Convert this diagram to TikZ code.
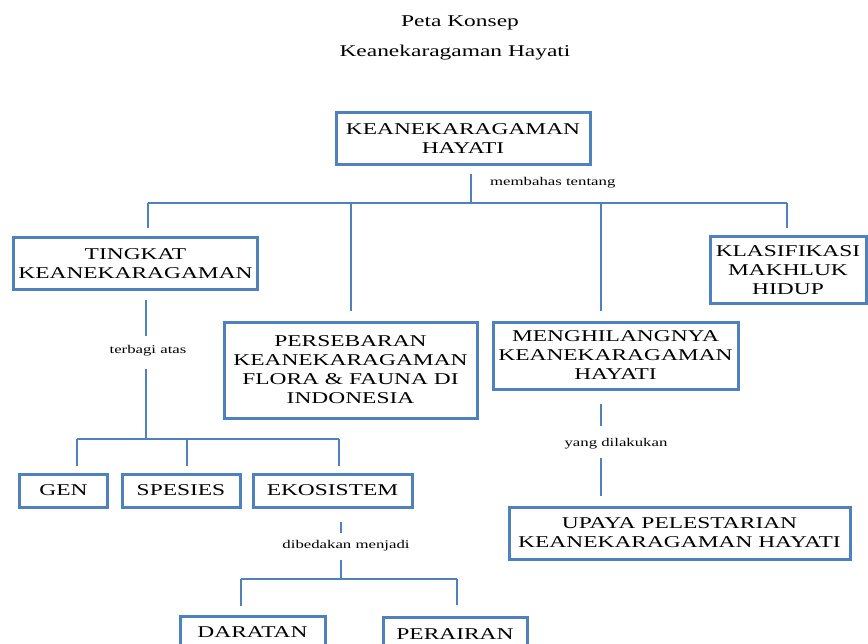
\documentclass[tikz,border=0pt]{standalone}
\usepackage{fontspec}
\setmainfont{Liberation Serif}[FakeStretch=1.42]
\usetikzlibrary{calc}
\definecolor{lineblue}{HTML}{4F81BD}
\tikzset{
  box/.style={draw=lineblue, line width=3bp, fill=white, align=center, inner sep=0pt,
    font=\fontsize{16.5bp}{19bp}\selectfont},
  conn/.style={draw=lineblue, line width=1.8bp},
  lbl/.style={inner sep=0pt, font=\fontsize{11.8bp}{13bp}\selectfont},
  ttl/.style={inner sep=0pt, font=\fontsize{16.5bp}{19bp}\selectfont}
}
\begin{document}
\begin{tikzpicture}[x=1bp,y=-1bp]
\useasboundingbox (0,0) rectangle (868,644);
% titles
\node[ttl] (t1) at (460,23) {Peta Konsep};
\node[ttl] (t2) at (455,53) {Keanekaragaman Hayati};
% boxes
\node[box, minimum width=254bp, minimum height=52bp] (root) at (463,139) {KEANEKARAGAMAN\\HAYATI};
\node[box, minimum width=243bp, minimum height=51bp] (tingkat) at (135.5,263.5) {TINGKAT\\KEANEKARAGAMAN};
\node[box, minimum width=253bp, minimum height=96bp] (sebar) at (350.5,370) {PERSEBARAN\\KEANEKARAGAMAN\\FLORA \& FAUNA DI\\INDONESIA};
\node[box, minimum width=245bp, minimum height=67bp] (hilang) at (615.5,355.5) {MENGHILANGNYA\\KEANEKARAGAMAN\\HAYATI};
\node[box, minimum width=156bp, minimum height=66bp] (klas) at (788,270) {KLASIFIKASI\\MAKHLUK\\HIDUP};
\node[box, minimum width=87bp, minimum height=33bp] (gen) at (63.5,490.5) {GEN};
\node[box, minimum width=118bp, minimum height=33bp] (spesies) at (181,490.5) {SPESIES};
\node[box, minimum width=159bp, minimum height=33bp] (eko) at (332.5,490.5) {EKOSISTEM};
\node[box, minimum width=341bp, minimum height=52bp] (upaya) at (679.5,533) {UPAYA PELESTARIAN\\KEANEKARAGAMAN HAYATI};
\node[box, minimum width=145bp, minimum height=33bp] (darat) at (252.5,632.5) {DARATAN};
\node[box, minimum width=144bp, minimum height=33bp] (air) at (455,634) {PERAIRAN};
% labels
\node[lbl, anchor=west] (l1) at (490,183) {membahas tentang};
\node[lbl] (l2) at (148,351) {terbagi atas};
\node[lbl] (l3) at (346,546) {dibedakan menjadi};
\node[lbl] (l4) at (616,444) {yang dilakukan};
% level 1
\coordinate (j1) at (471,203);
\coordinate (a1) at (148,203);
\coordinate (a2) at (351,203);
\coordinate (a3) at (601,203);
\coordinate (a4) at (787,203);
\draw[conn] ($(root.south -| j1)+(0,8)$) -- (j1);
\draw[conn] (a1) -- (a4);
\draw[conn] (a1) -- ($(a1 |- tingkat.north)+(0,-8)$);
\draw[conn] (a2) -- ($(a2 |- sebar.north)+(0,-10)$);
\draw[conn] (a3) -- ($(a3 |- hilang.north)+(0,-10)$);
\draw[conn] (a4) -- ($(a4 |- klas.north)+(0,-7)$);
% tingkat branch
\coordinate (j2) at (146,439);
\coordinate (b1) at (77,439);
\coordinate (b2) at (187,439);
\coordinate (b3) at (339,439);
\draw[conn] ($(tingkat.south -| j2)+(0,9)$) -- ($(l2.north -| j2)+(0,-9)$);
\draw[conn] ($(l2.south -| j2)+(0,12)$) -- (j2);
\draw[conn] (b1) -- (b3);
\draw[conn] (b1) -- ($(b1 |- gen.north)+(0,-7)$);
\draw[conn] (b2) -- ($(b2 |- spesies.north)+(0,-7)$);
\draw[conn] (b3) -- ($(b3 |- eko.north)+(0,-7)$);
% ekosistem branch
\coordinate (j3) at (341,579);
\coordinate (c1) at (241,579);
\coordinate (c2) at (457,579);
\draw[conn] ($(eko.south -| j3)+(0,13)$) -- ($(l3.north -| j3)+(0,-7)$);
\draw[conn] ($(l3.south -| j3)+(0,8)$) -- (j3);
\draw[conn] (c1) -- (c2);
\draw[conn] (c1) -- ($(c1 |- darat.north)+(0,-9)$);
\draw[conn] (c2) -- ($(c2 |- air.north)+(0,-11)$);
% hilang branch
\coordinate (j4) at (601,402);
\draw[conn] ($(hilang.south -| j4)+(0,13)$) -- ($(l4.north -| j4)+(0,-12)$);
\draw[conn] ($(l4.south -| j4)+(0,8)$) -- ($(upaya.north -| j4)+(0,-10)$);
\end{tikzpicture}
\end{document}
